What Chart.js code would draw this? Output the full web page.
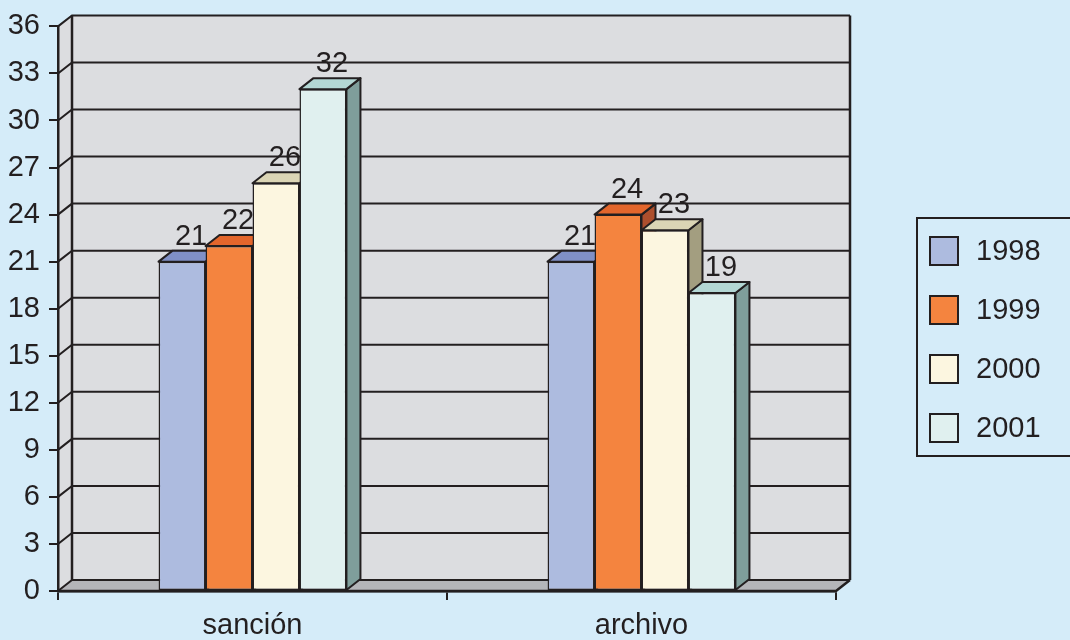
<!DOCTYPE html>
<html>
<head>
<meta charset="utf-8">
<script src="https://cdn.jsdelivr.net/npm/chart.js@4.4.0/dist/chart.umd.min.js"></script>
<style>
  html, body { margin: 0; padding: 0; background: #d5ecf9; }
  canvas { display: block; }
</style>
</head>
<body>
<canvas id="barChart3d" width="1070" height="640"></canvas>
<script>
const categories = ['sanción', 'archivo'];
const years = ['1998', '1999', '2000', '2001'];
const values1998 = [21, 21];
const values1999 = [22, 24];
const values2000 = [26, 23];
const values2001 = [32, 19];
const yMin = 0, yMax = 36, yStep = 3;

const ink = '#231f20';
const fontFamily = '"Liberation Sans", Arial, Helvetica, sans-serif';
const fontSize = 29;
const depthX = 14, depthY = 11;

// front / top / side shades for each year
const shades = [
    {front: '#adbbdf', top: '#8090c6', side: '#6f7fae'},
    {front: '#f4843f', top: '#e3662c', side: '#ad4f2d'},
    {front: '#fcf6e0', top: '#dbd5b5', side: '#a39e80'},
    {front: '#e0f0ef', top: '#b3d7d4', side: '#7f9e9b'}
];

function poly(ctx, pts) {
    ctx.beginPath();
    ctx.moveTo(pts[0][0], pts[0][1]);
    for (let k = 1; k < pts.length; k++) ctx.lineTo(pts[k][0], pts[k][1]);
    ctx.closePath();
}

const walls3d = {
    id: 'walls3d',
    beforeDraw(chart) {
        const ctx = chart.ctx;
        const a = chart.chartArea;
        const y = chart.scales.y;
        const L = a.left, R = a.right, T = a.top, B = a.bottom;
        ctx.save();
        ctx.fillStyle = '#d5ecf9';
        ctx.fillRect(0, 0, chart.width, chart.height);

        // back wall, side wall, floor
        ctx.fillStyle = '#dcdde0';
        ctx.fillRect(L + depthX, T - depthY, R - L, B - T);
        poly(ctx, [[L, T], [L + depthX, T - depthY], [L + depthX, B - depthY], [L, B]]);
        ctx.fill();
        ctx.fillStyle = '#b4b5b9';
        poly(ctx, [[L, B], [R, B], [R + depthX, B - depthY], [L + depthX, B - depthY]]);
        ctx.fill();

        // gridlines running across side wall and back wall
        ctx.strokeStyle = ink;
        ctx.lineWidth = 2;
        for (let v = yMin; v <= yMax; v += yStep) {
            const p = y.getPixelForValue(v);
            ctx.beginPath();
            ctx.moveTo(L, p);
            ctx.lineTo(L + depthX, p - depthY);
            ctx.lineTo(R + depthX, p - depthY);
            ctx.stroke();
        }
        ctx.lineWidth = 2.5;
        ctx.beginPath();
        ctx.moveTo(L + depthX, T - depthY);
        ctx.lineTo(L + depthX, B - depthY);
        ctx.moveTo(R + depthX, T - depthY);
        ctx.lineTo(R + depthX, B - depthY);
        ctx.moveTo(L, B);
        ctx.lineTo(R, B);
        ctx.lineTo(R + depthX, B - depthY);
        ctx.stroke();
        ctx.restore();
    },
    beforeDatasetsDraw(chart) {
        const ctx = chart.ctx;
        const bars = [];
        chart.data.datasets.forEach((ds, i) => {
            chart.getDatasetMeta(i).data.forEach(el => bars.push({el, i}));
        });
        bars.sort((p, q) => p.el.x - q.el.x);
        ctx.save();
        ctx.strokeStyle = ink;
        ctx.lineWidth = 2;
        ctx.lineJoin = 'round';
        bars.forEach(({el, i}) => {
            const {x, y, base, width} = el.getProps(['x', 'y', 'base', 'width'], true);
            const l = x - width / 2, r = x + width / 2;
            poly(ctx, [[r, y], [r + depthX, y - depthY], [r + depthX, base - depthY], [r, base]]);
            ctx.fillStyle = shades[i].side;
            ctx.fill();
            ctx.stroke();
            poly(ctx, [[l, y], [l + depthX, y - depthY], [r + depthX, y - depthY], [r, y]]);
            ctx.fillStyle = shades[i].top;
            ctx.fill();
            ctx.stroke();
        });
        ctx.restore();
    },
    afterDatasetsDraw(chart) {
        const ctx = chart.ctx;
        ctx.save();
        ctx.fillStyle = ink;
        ctx.font = fontSize + 'px ' + fontFamily;
        ctx.textAlign = 'center';
        ctx.textBaseline = 'alphabetic';
        chart.data.datasets.forEach((ds, i) => {
            chart.getDatasetMeta(i).data.forEach((el, j) => {
                ctx.fillText(String(ds.data[j]), el.x + depthX / 2 + 2, el.y - depthY - 6);
            });
        });
        ctx.restore();
    },
    afterDraw(chart) {
        // legend box on the right
        const ctx = chart.ctx;
        ctx.save();
        ctx.strokeStyle = ink;
        ctx.lineWidth = 2;
        ctx.strokeRect(917, 218, 170, 238);
        ctx.font = fontSize + 'px ' + fontFamily;
        ctx.textAlign = 'left';
        ctx.textBaseline = 'middle';
        chart.data.datasets.forEach((ds, i) => {
            const sy = 237 + i * 59;
            ctx.fillStyle = shades[i].front;
            ctx.fillRect(930, sy, 28, 28);
            ctx.strokeRect(930, sy, 28, 28);
            ctx.fillStyle = ink;
            ctx.fillText(ds.label, 976, sy + 15);
        });
        ctx.restore();
    }
};

const seriesValues = [values1998, values1999, values2000, values2001];

new Chart(document.getElementById('barChart3d'), {
    type: 'bar',
    data: {
        labels: categories,
        datasets: years.map((yr, i) => ({
            label: yr,
            data: seriesValues[i],
            backgroundColor: shades[i].front,
            borderColor: ink,
            borderWidth: 1.5,
            borderSkipped: false,
            barPercentage: 1,
            categoryPercentage: 0.483
        }))
    },
    options: {
        responsive: false,
        animation: false,
        layout: { padding: { left: 0, top: 23, right: 234, bottom: 0 } },
        plugins: {
            legend: { display: false },
            tooltip: { enabled: false }
        },
        scales: {
            x: {
                afterFit: (scale) => { scale.height = 49; },
                grid: { offset: true, drawOnChartArea: false, tickLength: 9, color: ink, lineWidth: 2 },
                border: { display: true, color: ink, width: 2.5 },
                ticks: { color: ink, padding: 9, font: { family: fontFamily, size: fontSize } }
            },
            y: {
                min: yMin,
                max: yMax,
                afterFit: (scale) => { scale.width = 58; },
                grid: { drawOnChartArea: false, tickLength: 9, color: ink, lineWidth: 2 },
                border: { display: true, color: ink, width: 2.5 },
                ticks: { stepSize: yStep, color: ink, padding: 9, font: { family: fontFamily, size: fontSize } }
            }
        }
    },
    plugins: [walls3d]
});
</script>
</body>
</html>
